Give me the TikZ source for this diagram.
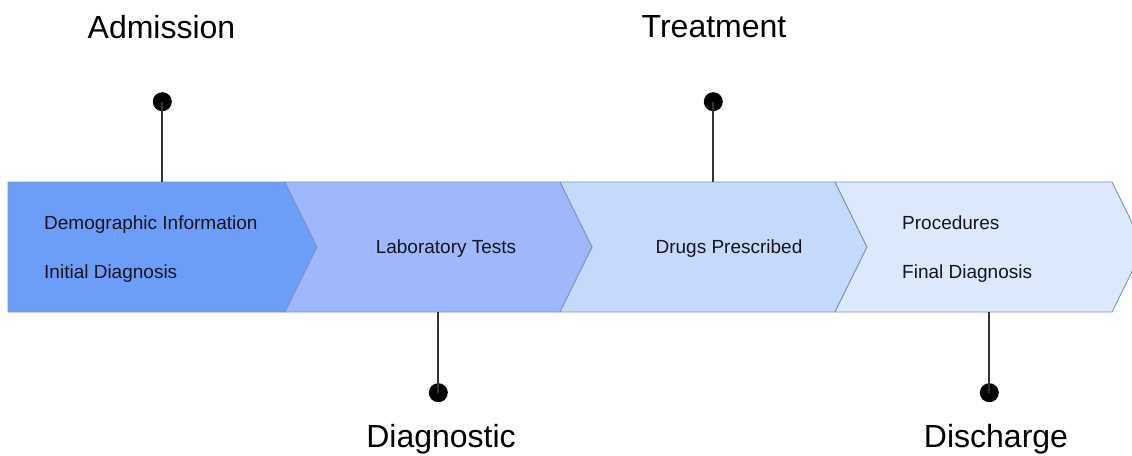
\documentclass[tikz,border=0pt]{standalone}
\usepackage{fontspec}
\setmainfont{Liberation Sans}
\definecolor{stageA}{HTML}{6D9EF7}
\definecolor{stageB}{HTML}{9FB8FC}
\definecolor{stageC}{HTML}{C5D9FC}
\definecolor{stageD}{HTML}{DCE9FD}
\definecolor{stageline}{HTML}{7D93BF}
\definecolor{inktext}{HTML}{14141F}
\begin{document}
\begin{tikzpicture}[x=1pt,y=-1pt,
  stage/.style={draw=stageline,line width=0.9pt,line join=miter},
  stagetext/.style={font=\fontsize{19}{23}\selectfont,text=inktext,inner sep=0pt},
  milestone/.style={font=\fontsize{32}{38}\selectfont,inner sep=0pt,anchor=base},
  pin/.style={circle,fill=black,minimum size=19pt,inner sep=0pt},
  stem/.style={draw=black!80,line width=1.7pt}]
\useasboundingbox (0,0) rectangle (1132,455);
\clip (0,0) rectangle (1132,455);

% process band: four chevrons
\path[stage,fill=stageA] (8,182) -- (285,182) -- (317,247) -- (285,312) -- (8,312) -- cycle;
\path[stage,fill=stageB] (285,182) -- (560,182) -- (592,247) -- (560,312) -- (285,312) -- (317,247) -- cycle;
\path[stage,fill=stageC] (560,182) -- (835,182) -- (867,247) -- (835,312) -- (560,312) -- (592,247) -- cycle;
\path[stage,fill=stageD] (835,182) -- (1112,182) -- (1144,247) -- (1112,312) -- (835,312) -- (867,247) -- cycle;

% stage contents
\node[stagetext,anchor=base west] (demo) at (44,229) {Demographic Information};
\node[stagetext,anchor=base west] (initdx) at (44,278) {Initial Diagnosis};
\node[stagetext,anchor=base] (lab) at (446,253) {Laboratory Tests};
\node[stagetext,anchor=base] (drugs) at (729,253) {Drugs Prescribed};
\node[stagetext,anchor=base west] (proc) at (902,229) {Procedures};
\node[stagetext,anchor=base west] (finaldx) at (902,278) {Final Diagnosis};

% attachment points on the band
\coordinate (admTop) at (162.3,182);
\coordinate (treatTop) at (713.3,182);
\coordinate (diagBot) at (438.3,312);
\coordinate (dischBot) at (989.3,312);

% milestone pins
\node[pin] (admPin) at (162.3,101.7) {};
\node[pin] (treatPin) at (713.3,101.7) {};
\node[pin] (diagPin) at (438.3,392.7) {};
\node[pin] (dischPin) at (989.3,392.7) {};

\draw[stem] (admPin.center) -- (admTop);
\draw[stem] (treatPin.center) -- (treatTop);
\draw[stem] (diagPin.center) -- (diagBot);
\draw[stem] (dischPin.center) -- (dischBot);

% milestone labels
\node[milestone] (admission) at (161.5,38) {Admission};
\node[milestone] (treatment) at (714,37) {Treatment};
\node[milestone] (diagnostic) at (441,447) {Diagnostic};
\node[milestone] (discharge) at (996,447) {Discharge};
\end{tikzpicture}
\end{document}
